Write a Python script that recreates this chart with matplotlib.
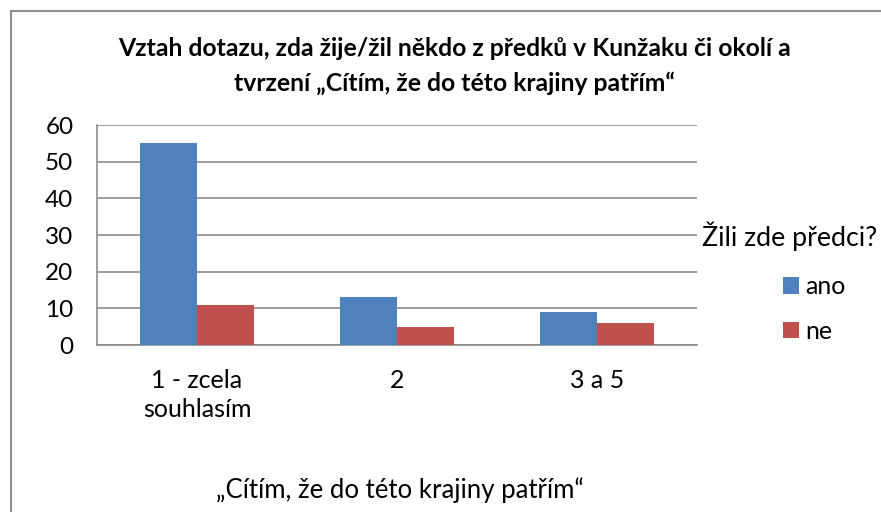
import numpy as np
import matplotlib.pyplot as plt
from matplotlib.patches import Rectangle

plt.rcParams['font.family'] = ['Lato', 'DejaVu Sans']

kategorie = ["1 - zcela\nsouhlasím", "2", "3 a 5"]
ano = [55, 13, 9]
ne = [11, 5, 6]
serie = ["ano", "ne"]

W, H = 881, 512
fig = plt.figure(figsize=(W / 100, H / 100), dpi=100)

# ramecek grafu (oriznuty vpravo a dole)
fig.patches.append(Rectangle((11 / W, -0.1), 1.2, (H - 11) / H + 0.1,
                             transform=fig.transFigure, fill=False,
                             edgecolor='#8c8c8c', lw=1.5))

ax = fig.add_axes([97 / W, 1 - 345 / H, 600 / W, 220 / H])
x = np.arange(len(kategorie))
w = 0.285
ax.bar(x - w / 2, ano, w, color='#4f81bd', label=serie[0], zorder=3)
ax.bar(x + w / 2, ne, w, color='#c0504d', label=serie[1], zorder=3)

ax.set_xlim(-0.5, 2.5)
ax.set_ylim(0, 60)
ax.set_yticks(range(0, 61, 10))
ax.yaxis.grid(True, color='#8c8c8c', lw=1.2, zorder=0)
for s in ['top', 'right']:
    ax.spines[s].set_visible(False)
ax.spines['left'].set_color('#8c8c8c')
ax.spines['bottom'].set_color('#8c8c8c')
ax.spines['left'].set_linewidth(1.2)
ax.spines['bottom'].set_linewidth(1.2)
ax.tick_params(axis='y', length=0, labelsize=17.5, pad=17)
ax.tick_params(axis='x', length=0, labelsize=18, pad=17)
ax.set_xticks(x)
ax.set_xticklabels(kategorie, linespacing=1.35)

fig.text(455 / W, 1 - 48 / H,
         "Vztah dotazu, zda žije/žil někdo z předků v Kunžaku či okolí a",
         ha='center', va='center', fontsize=17.8, fontweight='bold')
fig.text(455 / W, 1 - 83 / H,
         "tvrzení „Cítím, že do této krajiny patřím“",
         ha='center', va='center', fontsize=17.8, fontweight='bold')
fig.text(400 / W, 1 - 490 / H, "„Cítím, že do této krajiny patřím“",
         ha='center', va='center', fontsize=18.5)

# legenda
fig.text(702 / W, 1 - 236 / H, "Žili zde předci?", ha='left', va='center',
         fontsize=19.3)
fig.legend(loc='center left', bbox_to_anchor=(783 / W, 1 - 309 / H),
           frameon=False, fontsize=18, handlelength=0.65, handleheight=0.65,
           handletextpad=0.25, labelspacing=0.85, borderpad=0,
           borderaxespad=0)

fig.savefig("out.png", dpi=100)
